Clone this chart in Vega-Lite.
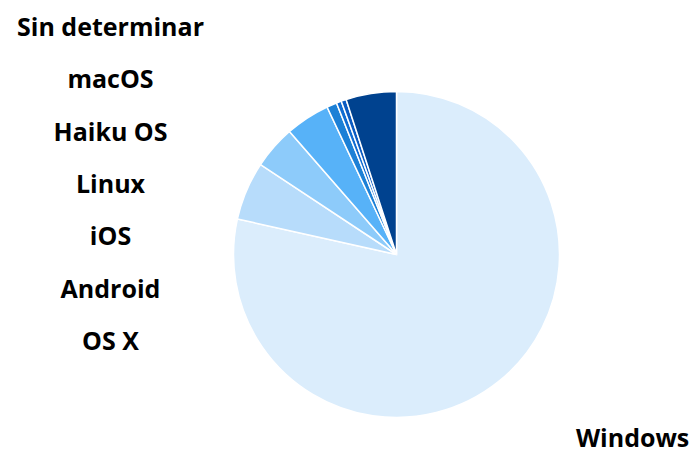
{
  "$schema": "https://vega.github.io/schema/vega-lite/v6.json",
  "width": 591,
  "height": 389,
  "autosize": "none",
  "padding": {"left": 101, "top": 60, "right": 0, "bottom": 0},
  "background": "white",
  "config": {"view": {"stroke": null}, "font": "Open Sans"},
  "data": {
    "values": [
      {"n": 1, "os": "Windows", "share": 78.5},
      {"n": 2, "os": "OS X", "share": 5.8},
      {"n": 3, "os": "Android", "share": 4.3},
      {"n": 4, "os": "iOS", "share": 4.4},
      {"n": 5, "os": "Linux", "share": 1.0},
      {"n": 6, "os": "Haiku OS", "share": 0.5},
      {"n": 7, "os": "macOS", "share": 0.5},
      {"n": 8, "os": "Sin determinar", "share": 5.0}
    ]
  },
  "layer": [
    {
      "mark": {"type": "arc", "radius": 163, "stroke": "white", "strokeWidth": 1.5},
      "encoding": {
        "theta": {"field": "share", "type": "quantitative", "stack": true},
        "order": {"field": "n", "type": "quantitative"},
        "color": {
          "field": "os",
          "type": "nominal",
          "legend": null,
          "scale": {
            "domain": ["Windows", "OS X", "Android", "iOS", "Linux", "Haiku OS", "macOS", "Sin determinar"],
            "range": ["#DBEDFC", "#B7DCFB", "#8DCBFA", "#57B2F8", "#1C80D6", "#106CD2", "#0A5BC2", "#00428F"]
          }
        }
      }
    },
    {
      "transform": [{"filter": "datum.os !== 'Windows'"}],
      "mark": {"type": "text", "align": "center", "baseline": "alphabetic", "fontSize": 25, "fontWeight": "bold", "font": "Open Sans", "color": "#000000", "dx": -286},
      "encoding": {
        "y": {
          "field": "os",
          "type": "nominal",
          "sort": ["Sin determinar", "macOS", "Haiku OS", "Linux", "iOS", "Android", "OS X"],
          "scale": {"type": "point", "padding": 0, "range": [-24.3, 290.1]},
          "axis": null
        },
        "text": {"field": "os"}
      }
    },
    {
      "mark": {"type": "text", "radius": 247, "align": "left", "baseline": "alphabetic", "dx": 25, "fontSize": 25, "fontWeight": "bold", "font": "Open Sans", "color": "#000000"},
      "encoding": {
        "theta": {"field": "share", "type": "quantitative", "stack": true},
        "order": {"field": "n", "type": "quantitative"},
        "text": {"condition": {"test": "datum.os === 'Windows'", "field": "os"}, "value": ""}
      }
    }
  ]
}
